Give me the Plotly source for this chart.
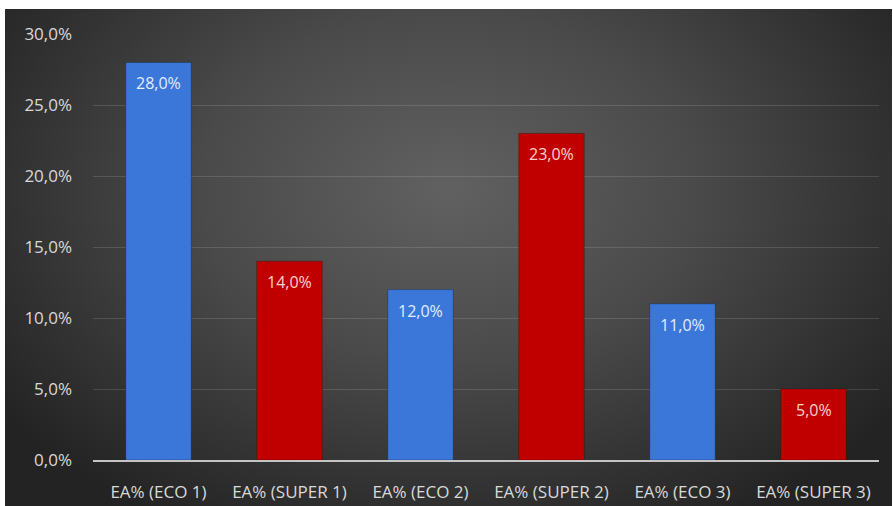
import base64
import plotly.graph_objects as go

# Data
categories = ["EA% (ECO 1)", "EA% (SUPER 1)", "EA% (ECO 2)",
              "EA% (SUPER 2)", "EA% (ECO 3)", "EA% (SUPER 3)"]
values = [0.28, 0.14, 0.12, 0.23, 0.11, 0.05]
bar_colors = ["#3b76d9", "#c00000", "#3b76d9", "#c00000", "#3b76d9", "#c00000"]
label_colors = ["#e4ecff", "#ffd0d0", "#e4ecff", "#ffd0d0", "#e4ecff", "#ffd0d0"]
y_ticks = [0, 0.05, 0.10, 0.15, 0.20, 0.25, 0.30]

W, H = 893, 506
ML, MR, MT, MB = 93, 14, 34, 46
PW, PH = W - ML - MR, H - MT - MB

# dark radial-gradient panel behind the chart
svg = (
    '<svg xmlns="http://www.w3.org/2000/svg" width="887" height="497" '
    'preserveAspectRatio="none" viewBox="0 0 887 497">'
    '<defs><radialGradient id="g" cx="0.5" cy="0.36" r="0.62" '
    'gradientTransform="translate(0.5 0.36) scale(1 1.25) translate(-0.5 -0.36)">'
    '<stop offset="0" stop-color="#616161"/>'
    '<stop offset="0.45" stop-color="#4a4a4a"/>'
    '<stop offset="1" stop-color="#232323"/>'
    '</radialGradient></defs>'
    '<rect width="887" height="497" fill="url(#g)"/></svg>'
)
bg_src = "data:image/svg+xml;base64," + base64.b64encode(svg.encode()).decode()

fig = go.Figure()
fig.add_trace(go.Bar(
    x=categories, y=values,
    marker=dict(color=bar_colors, line=dict(color="rgba(0,0,0,0.25)", width=1)),
    width=0.5,
    hoverinfo="skip",
))

# value labels inside the top of each bar
for c, v, col in zip(categories, values, label_colors):
    fig.add_annotation(
        x=c, y=v, text=f"{v * 100:.1f}%".replace(".", ","),
        showarrow=False, yanchor="middle", yshift=-21,
        font=dict(family="Open Sans", size=16, color=col),
    )

fig.add_layout_image(
    source=bg_src, xref="paper", yref="paper",
    x=(5 - ML) / PW, y=(H - MB - 9) / PH,
    sizex=887 / PW, sizey=497 / PH,
    xanchor="left", yanchor="top", sizing="stretch", layer="below",
)

fig.update_layout(
    width=W, height=H,
    margin=dict(l=ML, r=MR, t=MT, b=MB, autoexpand=False),
    paper_bgcolor="white", plot_bgcolor="rgba(0,0,0,0)",
    separators=",.",
    showlegend=False,
    bargap=0.5,
    font=dict(family="Open Sans", color="#d9d9d9"),
    xaxis=dict(
        showgrid=False, showline=True, linecolor="#c4c4c4", linewidth=2,
        tickfont=dict(size=17, color="#d9d9d9"), ticklabelstandoff=16,
        automargin=False, fixedrange=True,
    ),
    yaxis=dict(
        range=[0, 0.30], tickvals=y_ticks, tickformat=".1%",
        showgrid=True, gridcolor="rgba(255,255,255,0.13)", gridwidth=1,
        zeroline=False, showline=False,
        tickfont=dict(size=17, color="#d9d9d9"), ticklabelstandoff=20,
        automargin=False, fixedrange=True,
    ),
)

fig.write_html("out.html")
